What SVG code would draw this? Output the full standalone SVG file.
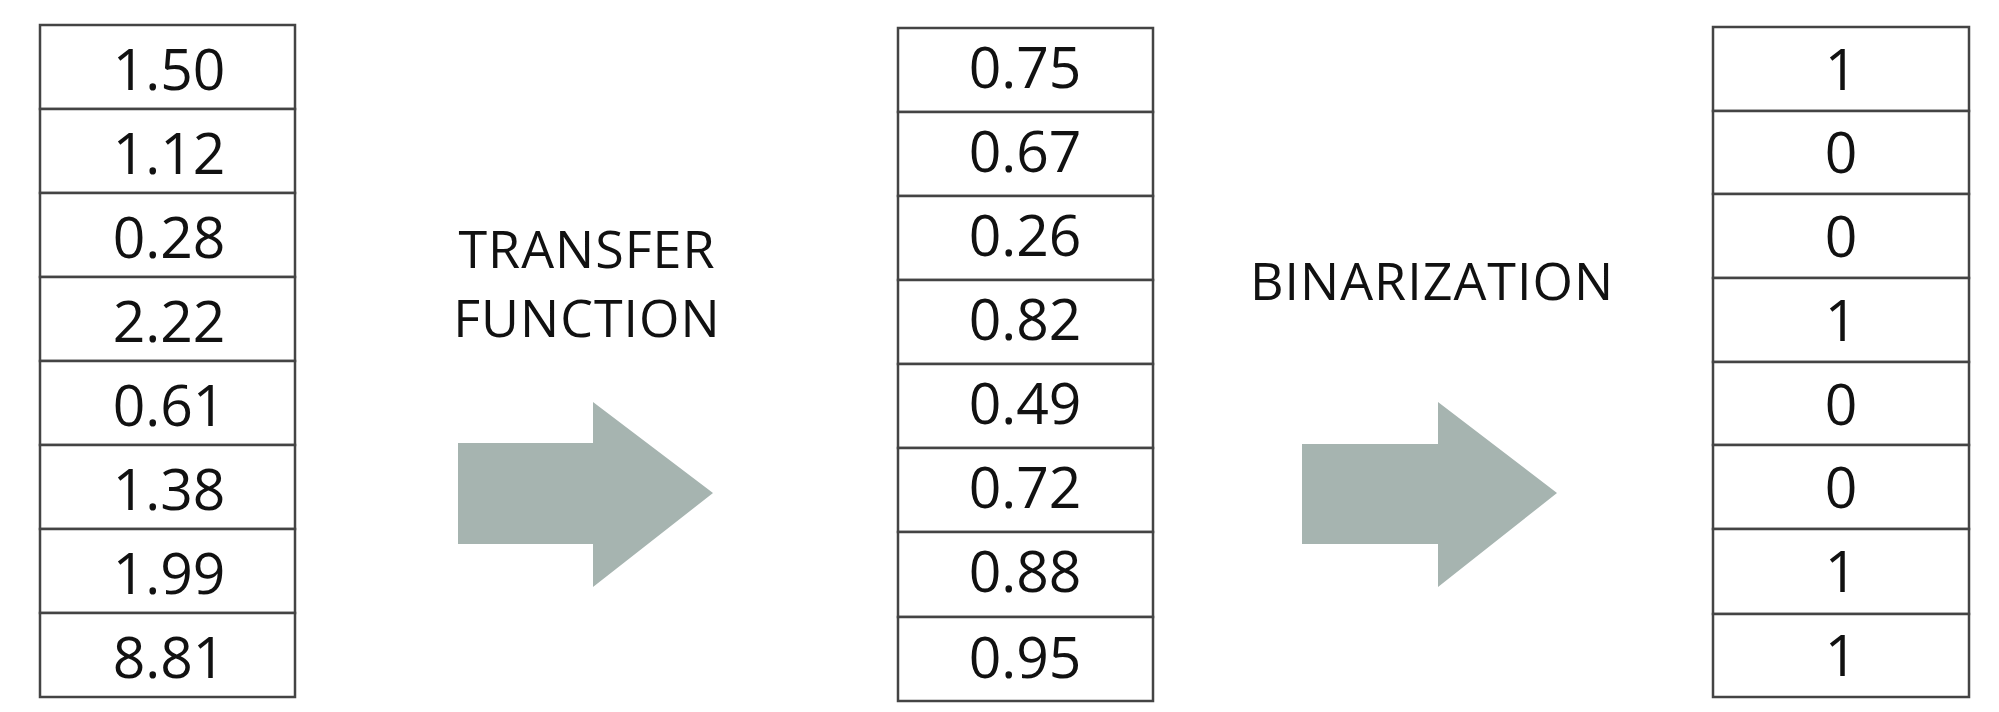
<svg xmlns="http://www.w3.org/2000/svg" width="1999" height="712" viewBox="0 0 1999 712">
<style>
.cell{fill:#fff;stroke:#444;stroke-width:2.5}
.v{font-family:"Open Sans","Liberation Sans",sans-serif;font-size:57px;fill:#111;text-anchor:middle}
.lbl{font-family:"Open Sans","Liberation Sans",sans-serif;font-size:52px;letter-spacing:1px;fill:#111;text-anchor:middle}
.arrow{fill:#a6b4b0}
</style>
<rect width="1999" height="712" fill="#fff"/>
<g id="col-input">
<rect class="cell" x="40" y="25" width="255" height="84"/>
<rect class="cell" x="40" y="109" width="255" height="84"/>
<rect class="cell" x="40" y="193" width="255" height="84"/>
<rect class="cell" x="40" y="277" width="255" height="84"/>
<rect class="cell" x="40" y="361" width="255" height="84"/>
<rect class="cell" x="40" y="445" width="255" height="84"/>
<rect class="cell" x="40" y="529" width="255" height="84"/>
<rect class="cell" x="40" y="613" width="255" height="84"/>
<text class="v" x="169" y="90">1.50</text>
<text class="v" x="169" y="174">1.12</text>
<text class="v" x="169" y="258">0.28</text>
<text class="v" x="169" y="342">2.22</text>
<text class="v" x="169" y="426">0.61</text>
<text class="v" x="169" y="510">1.38</text>
<text class="v" x="169" y="594">1.99</text>
<text class="v" x="169" y="678">8.81</text>
</g>
<g id="col-transfer">
<rect class="cell" x="898" y="28" width="255" height="84"/>
<rect class="cell" x="898" y="112" width="255" height="84"/>
<rect class="cell" x="898" y="196" width="255" height="84"/>
<rect class="cell" x="898" y="280" width="255" height="84"/>
<rect class="cell" x="898" y="364" width="255" height="84"/>
<rect class="cell" x="898" y="448" width="255" height="84"/>
<rect class="cell" x="898" y="532" width="255" height="85"/>
<rect class="cell" x="898" y="617" width="255" height="84"/>
<text class="v" x="1025" y="88">0.75</text>
<text class="v" x="1025" y="172">0.67</text>
<text class="v" x="1025" y="256">0.26</text>
<text class="v" x="1025" y="340">0.82</text>
<text class="v" x="1025" y="424">0.49</text>
<text class="v" x="1025" y="508">0.72</text>
<text class="v" x="1025" y="592">0.88</text>
<text class="v" x="1025" y="678">0.95</text>
</g>
<g id="col-binary">
<rect class="cell" x="1713" y="27" width="256" height="84"/>
<rect class="cell" x="1713" y="111" width="256" height="83"/>
<rect class="cell" x="1713" y="194" width="256" height="84"/>
<rect class="cell" x="1713" y="278" width="256" height="84"/>
<rect class="cell" x="1713" y="362" width="256" height="83"/>
<rect class="cell" x="1713" y="445" width="256" height="84"/>
<rect class="cell" x="1713" y="529" width="256" height="85"/>
<rect class="cell" x="1713" y="614" width="256" height="83"/>
<text class="v" x="1841" y="90">1</text>
<text class="v" x="1841" y="173">0</text>
<text class="v" x="1841" y="257">0</text>
<text class="v" x="1841" y="341">1</text>
<text class="v" x="1841" y="425">0</text>
<text class="v" x="1841" y="508">0</text>
<text class="v" x="1841" y="592">1</text>
<text class="v" x="1841" y="676">1</text>
</g>
<g id="connectors">
<g id="arrow-transfer">
<polygon class="arrow" points="458,443 593,443 593,402 713,493 593,587 593,544 458,544"/>
<text class="lbl" x="587" y="268">TRANSFER</text>
<text class="lbl" x="587" y="337">FUNCTION</text>
</g>
<g id="arrow-binarization">
<polygon class="arrow" points="1302,444 1438,444 1438,402 1557,493 1438,587 1438,544 1302,544"/>
<text class="lbl" x="1432" y="300">BINARIZATION</text>
</g>
</g>
</svg>
